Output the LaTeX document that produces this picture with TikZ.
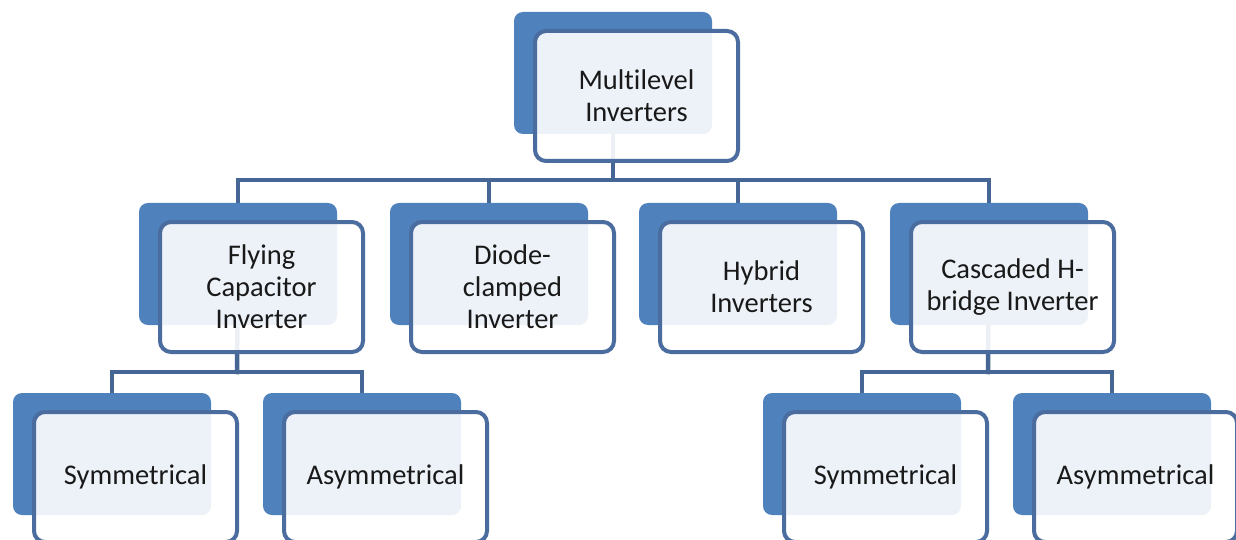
\documentclass[tikz,border=0pt]{standalone}
\usepackage{fontspec}
\setmainfont{Carlito}[Ligatures=NoCommon]
\usetikzlibrary{backgrounds}
\definecolor{backblue}{RGB}{79,129,189}
\definecolor{edgeblue}{RGB}{74,108,158}
\definecolor{lineblue}{RGB}{70,102,150}
\definecolor{txtgray}{RGB}{25,25,25}
\newcommand\pairbox[4]{%
  \node[backbox] (#1B) at (#2,#3) {};
  \node[frontbox] (#1F) at (#2+21,#3+19) {#4};}
\begin{document}
\begin{tikzpicture}[x=1pt,y=-1pt,
  backbox/.style={fill=backblue, rounded corners=9pt, minimum width=198pt,
    minimum height=122pt, inner sep=0pt, outer sep=0pt, anchor=north west},
  frontbox/.style={draw=edgeblue, line width=4pt, fill=white, fill opacity=0.9,
    text opacity=1, rounded corners=11pt, minimum width=203pt, minimum height=130pt,
    inner sep=0pt, outer sep=0pt, anchor=north west, align=center, text=txtgray,
    font=\fontsize{28.5}{32}\selectfont},
  conn/.style={draw=lineblue, line width=4.5pt, line join=miter, line cap=rect}]
\useasboundingbox (0,0) rectangle (1236,540);
\clip (0,0) rectangle (1236,540);

\pairbox{top}{514}{12}{Multilevel\\Inverters}
\pairbox{fly}{139}{203}{Flying\\Capacitor\\Inverter}
\pairbox{dio}{390}{203}{Diode-\\clamped\\Inverter}
\pairbox{hyb}{639}{203}{Hybrid\\Inverters}
\pairbox{cas}{890}{203}{Cascaded H-\\bridge Inverter}
\pairbox{syma}{13}{393}{Symmetrical}
\pairbox{asya}{263}{393}{Asymmetrical}
\pairbox{symb}{763}{393}{Symmetrical}
\pairbox{asyb}{1013}{393}{Asymmetrical}

\coordinate (busA) at (613,180);
\coordinate (busB) at (237,372);
\coordinate (busC) at (988,372);

\begin{scope}[on background layer]
  \fill[white] (0,0) rectangle (1236,540);
  \draw[conn] (topB.center) -- (busA);
  \draw[conn] (flyB.north) -- (flyB.north |- busA) -- (casB.north |- busA) -- (casB.north);
  \draw[conn] (dioB.north |- busA) -- (dioB.north);
  \draw[conn] (hybB.north |- busA) -- (hybB.north);
  \draw[conn] (flyB.center) -- (busB);
  \draw[conn] (symaB.north) -- (symaB.north |- busB) -- (asyaB.north |- busB) -- (asyaB.north);
  \draw[conn] (casB.center) -- (busC);
  \draw[conn] (symbB.north) -- (symbB.north |- busC) -- (asybB.north |- busC) -- (asybB.north);
\end{scope}
\end{tikzpicture}
\end{document}
